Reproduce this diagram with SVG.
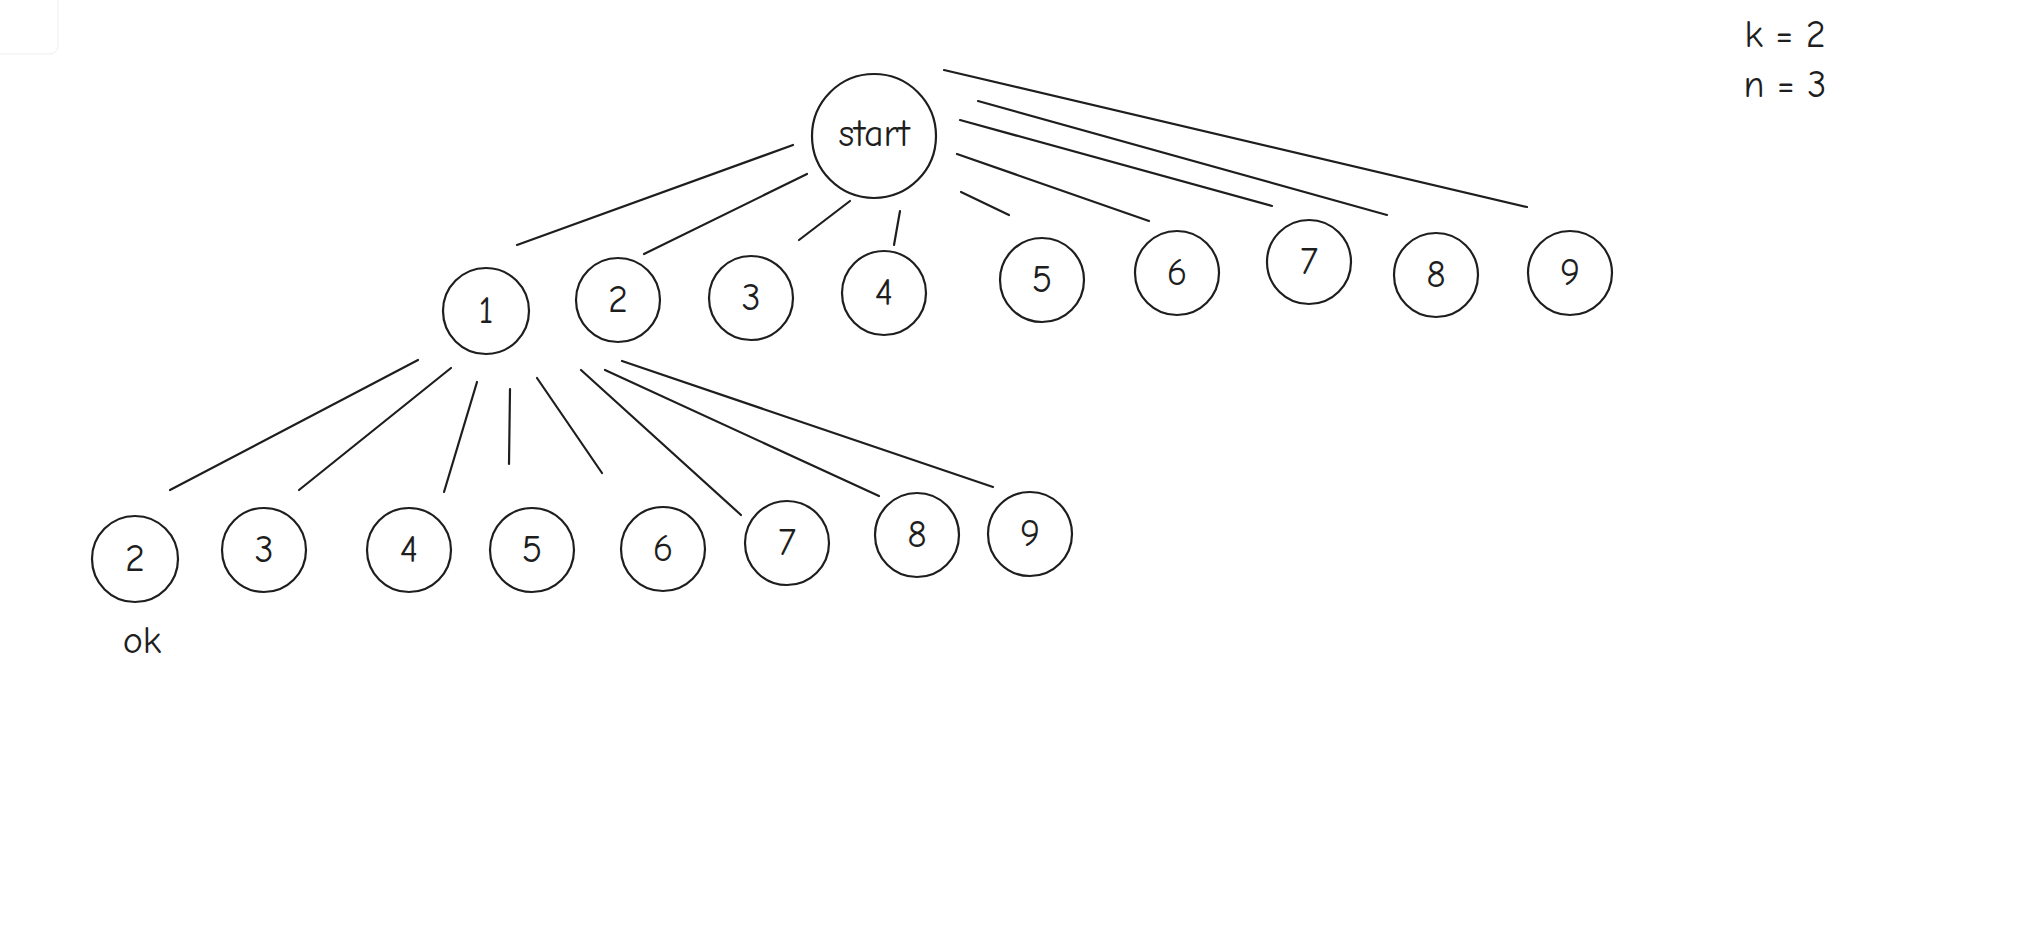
<svg xmlns="http://www.w3.org/2000/svg" width="2030" height="928" viewBox="0 0 2030 928">
<style>
.n circle{fill:none;stroke:#1e1e1e;stroke-width:2.2}
text{font-family:"Comic Neue","Liberation Sans",sans-serif;fill:#1e1e1e;text-anchor:middle;dominant-baseline:central}
.d{font-size:38px}
#edges line{stroke:#1e1e1e;stroke-width:2.2;stroke-linecap:round}
</style>
<rect width="2030" height="928" fill="#fff"/>
<rect x="-10" y="-10" width="68" height="64" rx="8" fill="#fff" stroke="#eee"/>
<g id="edges">
<line x1="793" y1="145" x2="517" y2="245"/>
<line x1="807" y1="174" x2="644" y2="254"/>
<line x1="850" y1="201" x2="799" y2="240"/>
<line x1="900" y1="211" x2="894" y2="245"/>
<line x1="961" y1="192" x2="1009" y2="215"/>
<line x1="957" y1="154" x2="1149" y2="221"/>
<line x1="960" y1="120" x2="1272" y2="206"/>
<line x1="978" y1="101" x2="1387" y2="215"/>
<line x1="944" y1="70" x2="1527" y2="207"/>
<line x1="418" y1="360" x2="170" y2="490"/>
<line x1="451" y1="368" x2="299" y2="490"/>
<line x1="477" y1="382" x2="444" y2="492"/>
<line x1="510" y1="389" x2="509" y2="464"/>
<line x1="537" y1="378" x2="602" y2="473"/>
<line x1="581" y1="370" x2="741" y2="515"/>
<line x1="605" y1="370" x2="879" y2="496"/>
<line x1="622" y1="361" x2="993" y2="487"/>
</g>
<g id="start" class="n"><circle cx="874" cy="136" r="62"/><text x="874" y="134" class="d">start</text></g>
<g id="a1" class="n"><circle cx="486" cy="311" r="43"/><text x="486" y="311" class="d">1</text></g>
<g id="a2" class="n"><circle cx="618" cy="300" r="42"/><text x="618" y="300" class="d">2</text></g>
<g id="a3" class="n"><circle cx="751" cy="298" r="42"/><text x="751" y="298" class="d">3</text></g>
<g id="a4" class="n"><circle cx="884" cy="293" r="42"/><text x="884" y="293" class="d">4</text></g>
<g id="a5" class="n"><circle cx="1042" cy="280" r="42"/><text x="1042" y="280" class="d">5</text></g>
<g id="a6" class="n"><circle cx="1177" cy="273" r="42"/><text x="1177" y="273" class="d">6</text></g>
<g id="a7" class="n"><circle cx="1309" cy="262" r="42"/><text x="1309" y="262" class="d">7</text></g>
<g id="a8" class="n"><circle cx="1436" cy="275" r="42"/><text x="1436" y="275" class="d">8</text></g>
<g id="a9" class="n"><circle cx="1570" cy="273" r="42"/><text x="1570" y="273" class="d">9</text></g>
<g id="b2" class="n"><circle cx="135" cy="559" r="43"/><text x="135" y="559" class="d">2</text></g>
<g id="b3" class="n"><circle cx="264" cy="550" r="42"/><text x="264" y="550" class="d">3</text></g>
<g id="b4" class="n"><circle cx="409" cy="550" r="42"/><text x="409" y="550" class="d">4</text></g>
<g id="b5" class="n"><circle cx="532" cy="550" r="42"/><text x="532" y="550" class="d">5</text></g>
<g id="b6" class="n"><circle cx="663" cy="549" r="42"/><text x="663" y="549" class="d">6</text></g>
<g id="b7" class="n"><circle cx="787" cy="543" r="42"/><text x="787" y="543" class="d">7</text></g>
<g id="b8" class="n"><circle cx="917" cy="535" r="42"/><text x="917" y="535" class="d">8</text></g>
<g id="b9" class="n"><circle cx="1030" cy="534" r="42"/><text x="1030" y="534" class="d">9</text></g>
<text x="142" y="641" class="d">ok</text>
<text x="1785" y="35" class="d">k = 2</text>
<text x="1785" y="85" class="d">n = 3</text>
</svg>
